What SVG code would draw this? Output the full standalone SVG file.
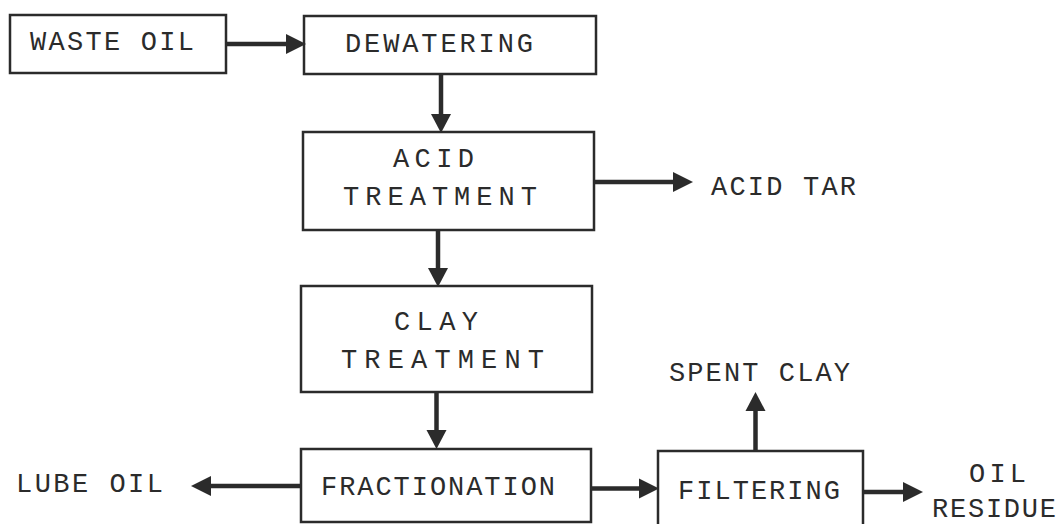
<svg xmlns="http://www.w3.org/2000/svg" width="1061" height="524" viewBox="0 0 1061 524">
<style>
.box{fill:none;stroke:#2b2b2b;stroke-width:2.5}
.t{font-family:"Liberation Mono","DejaVu Sans Mono",monospace;font-size:27px;fill:#2b2b2b;lengthAdjust:spacing}
.c{stroke:#2b2b2b;stroke-width:4.5;fill:none}
.h{fill:#2b2b2b}
</style>
<rect width="1061" height="524" fill="#ffffff"/>
<g id="waste-oil"><rect class="box" x="10" y="15" width="216" height="58"/><text class="t" x="30" y="50" textLength="164" lengthAdjust="spacing">WASTE OIL</text></g>
<g id="dewatering"><rect class="box" x="304" y="16" width="292" height="58"/><text class="t" x="345" y="52" textLength="188" lengthAdjust="spacing">DEWATERING</text></g>
<g id="acid-treatment"><rect class="box" x="303" y="132" width="291" height="98"/><text class="t" x="393" y="167" textLength="81" lengthAdjust="spacing">ACID</text><text class="t" x="343" y="205" textLength="194" lengthAdjust="spacing">TREATMENT</text></g>
<g id="acid-tar"><text class="t" x="711" y="195" textLength="145" lengthAdjust="spacing">ACID TAR</text></g>
<g id="clay-treatment"><rect class="box" x="301" y="286" width="291" height="106"/><text class="t" x="394" y="330" textLength="84" lengthAdjust="spacing">CLAY</text><text class="t" x="341" y="368" textLength="203" lengthAdjust="spacing">TREATMENT</text></g>
<g id="spent-clay"><text class="t" x="669" y="381" textLength="181" lengthAdjust="spacing">SPENT CLAY</text></g>
<g id="lube-oil"><text class="t" x="16" y="492" textLength="147" lengthAdjust="spacing">LUBE OIL</text></g>
<g id="fractionation"><rect class="box" x="301" y="449" width="290" height="73"/><text class="t" x="321" y="495" textLength="234" lengthAdjust="spacing">FRACTIONATION</text></g>
<g id="filtering"><rect class="box" x="658" y="451" width="205" height="85"/><text class="t" x="678" y="499" textLength="162" lengthAdjust="spacing">FILTERING</text></g>
<g id="oil-residue"><text class="t" x="969" y="482" textLength="57" lengthAdjust="spacing">OIL</text><text class="t" x="932" y="517" textLength="124" lengthAdjust="spacing">RESIDUE</text></g>
<g id="connectors">
<line class="c" x1="226" y1="44" x2="290" y2="44"/><polygon class="h" points="306,44 286,34 286,54"/>
<line class="c" x1="441" y1="74" x2="441" y2="118"/><polygon class="h" points="441,133 431,114 451,114"/>
<line class="c" x1="594" y1="182" x2="678" y2="182"/><polygon class="h" points="693,182 673,172 673,192"/>
<line class="c" x1="438" y1="230" x2="438" y2="272"/><polygon class="h" points="438,287 428,268 448,268"/>
<line class="c" x1="436.5" y1="392" x2="436.5" y2="434"/><polygon class="h" points="436.5,449 426.5,430 446.5,430"/>
<line class="c" x1="301" y1="486" x2="206" y2="486"/><polygon class="h" points="191,486 211,476 211,496"/>
<line class="c" x1="591" y1="488.5" x2="644" y2="488.5"/><polygon class="h" points="659,488.5 639,478.5 639,498.5"/>
<line class="c" x1="755.5" y1="451" x2="755.5" y2="407"/><polygon class="h" points="755.5,392 745.5,411 765.5,411"/>
<line class="c" x1="863" y1="492" x2="908" y2="492"/><polygon class="h" points="923,492 903,482 903,502"/>
</g>
</svg>
